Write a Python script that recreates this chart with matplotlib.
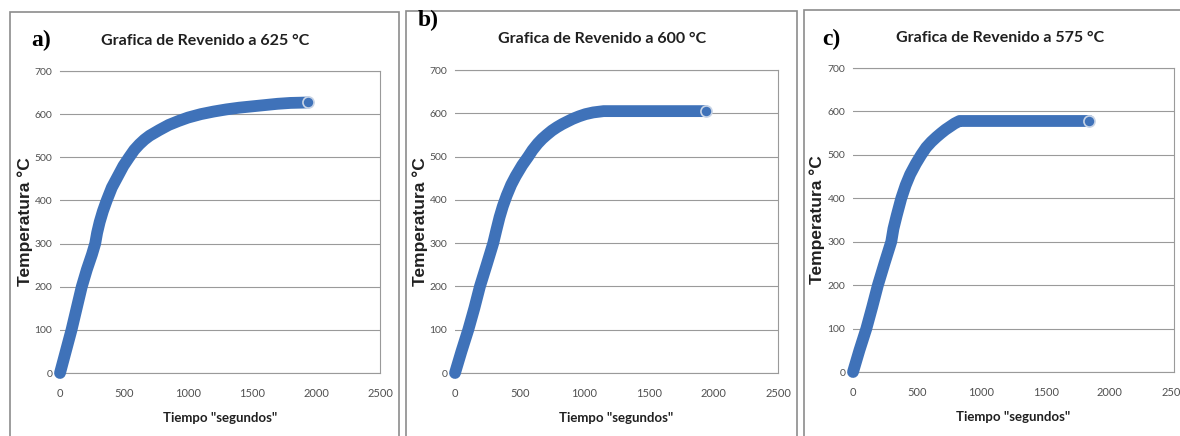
import matplotlib
matplotlib.use("Agg")
import matplotlib.pyplot as plt
from matplotlib.patches import Rectangle

# ---- data ----
t_625 = [0, 45, 90, 130, 170, 210, 250, 275, 290, 310, 335, 365, 405, 450, 495, 540, 580, 620,
         660, 700, 775, 850, 925, 1000, 1100, 1200, 1300, 1400, 1500, 1600, 1700, 1800, 1940]
T_625 = [0, 50, 100, 150, 200, 240, 275, 300, 325, 350, 375, 400, 430, 455, 480, 500, 517, 530,
         541, 550, 563, 575, 584, 592, 600, 606, 611, 615, 618, 621, 624, 626, 627]

t_600 = [0, 50, 103, 150, 193, 245, 296, 320, 345, 370, 400, 435, 470, 520, 567, 600, 640, 675,
         709, 750, 790, 830, 863, 910, 960, 1010, 1070, 1150, 1500, 1940]
T_600 = [0, 50, 100, 150, 200, 250, 300, 330, 360, 385, 410, 435, 455, 480, 500, 515, 530, 541,
         550, 560, 568, 575, 580, 587, 593, 598, 602, 605, 605, 605]

t_575 = [0, 50, 104, 150, 194, 245, 298, 315, 340, 376, 410, 445, 490, 531, 570, 610, 650, 686,
         720, 760, 790, 816, 830, 1200, 1840]
T_575 = [0, 50, 100, 150, 200, 250, 300, 330, 360, 400, 430, 455, 480, 500, 517, 530, 541, 550,
         558, 566, 572, 576, 578, 578, 578]

panel_labels = ["a)", "b)", "c)"]
titles = ["Grafica de Revenido a 625 °C", "Grafica de Revenido a 600 °C", "Grafica de Revenido a 575 °C"]
series = [(t_625, T_625), (t_600, T_600), (t_575, T_575)]
x_ticks = [0, 500, 1000, 1500, 2000, 2500]
y_ticks = [0, 100, 200, 300, 400, 500, 600, 700]
xlabel = 'Tiempo "segundos"'
ylabel = "Temperatura °C"

W, H = 1180, 436
fig = plt.figure(figsize=(W / 100, H / 100), dpi=100)
fig.patch.set_facecolor("white")

# panel frames (pixels: left, top, right)
frames = [(10, 12, 399), (406, 11, 797), (804, 10, 1190)]
# plot areas (pixels: left, top, right, bottom)
areas = [(60, 71, 380, 373), (455, 70, 778, 373), (853, 68, 1174, 372)]
# text positions
lab_pos = [(31, 40), (418, 20), (822, 39)]
title_x = [205, 602, 1000]
title_y = [41, 39, 38]
ylab_x = [33, 428, 825]

line_color = "#3f72b9"

for i in range(3):
    l, t, r = frames[i]
    fig.patches.append(Rectangle((l / W, 0 - 0.01), (r - l) / W, (H - t) / H + 0.01,
                                 transform=fig.transFigure, fill=False,
                                 edgecolor="#8c8c8c", linewidth=1.2, zorder=0))
    al, at, ar, ab = areas[i]
    ax = fig.add_axes([al / W, 1 - ab / H, (ar - al) / W, (ab - at) / H])
    x, y = series[i]
    ax.plot(x, y, color=line_color, linewidth=8.5, solid_capstyle="round",
            solid_joinstyle="round", zorder=3, clip_on=False)
    ax.plot([x[-1]], [y[-1]], marker="o", markersize=8, color=line_color,
            markeredgecolor="#c8d4e6", markeredgewidth=1.2, zorder=4)
    ax.set_xlim(0, 2500)
    ax.set_ylim(0, 700)
    ax.set_xticks(x_ticks)
    ax.set_yticks(y_ticks)
    ax.set_xticklabels([str(v) for v in x_ticks], fontsize=8, color="#505050", family="Lato")
    ax.set_yticklabels([str(v) for v in y_ticks], fontsize=7.5, color="#505050", family="Lato")
    ax.tick_params(axis="x", length=0, pad=11)
    ax.tick_params(axis="y", length=0, pad=5.5)
    ax.grid(axis="y", color="#9a9a9a", linewidth=0.8)
    ax.set_axisbelow(True)
    for s in ["top", "right", "bottom"]:
        ax.spines[s].set_color("#9a9a9a")
        ax.spines[s].set_linewidth(0.8)
    ax.spines["left"].set_visible(False)
    ax.set_xlabel(xlabel, fontsize=9.5, fontweight="bold", family="Lato",
                  color="#202020", labelpad=9)
    ax.set_ylabel(ylabel, fontsize=12.5, fontweight="bold", family="Liberation Sans",
                  color="#202020")
    ax.yaxis.set_label_coords((ylab_x[i] - al) / (ar - al), 0.5)
    fig.text(title_x[i] / W, 1 - title_y[i] / H, titles[i], fontsize=11.5, fontweight="bold",
             family="Lato", ha="center", va="center", color="#202020")
    fig.text(lab_pos[i][0] / W, 1 - lab_pos[i][1] / H, panel_labels[i], fontsize=17,
             fontweight="bold", family="Liberation Serif", ha="left", va="center",
             color="black")

fig.savefig("out.png", dpi=100, facecolor="white")
